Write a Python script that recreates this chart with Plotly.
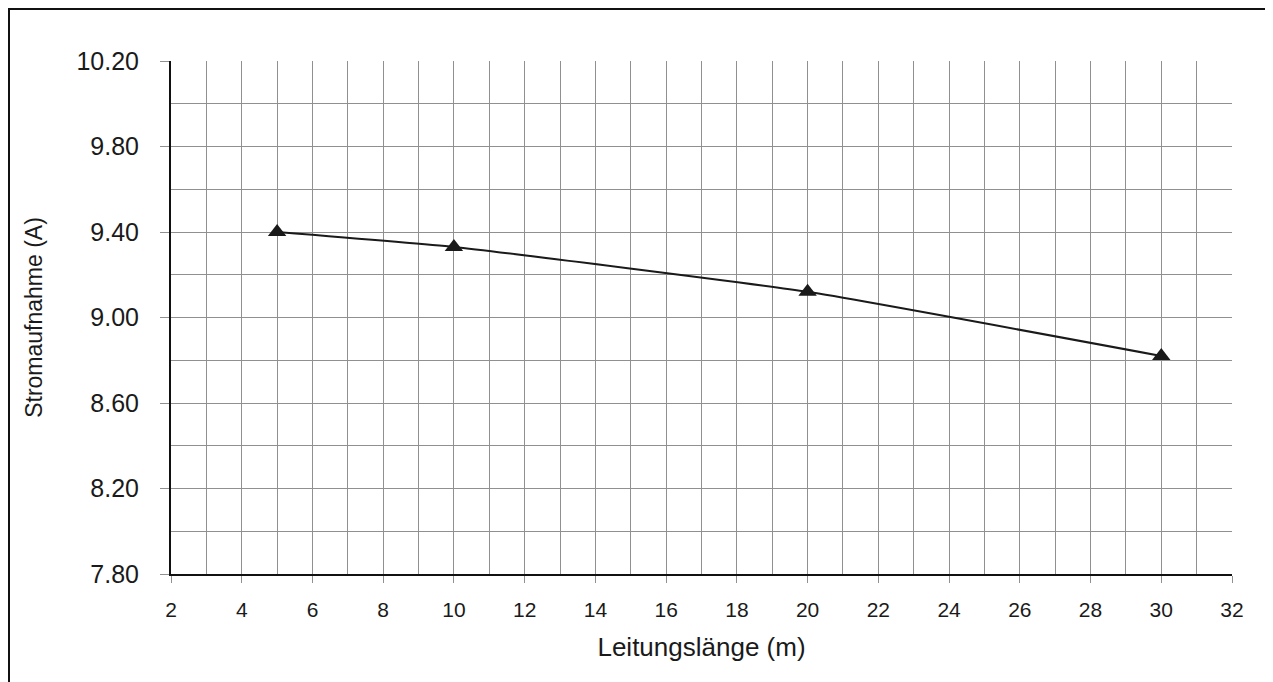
import plotly.graph_objects as go

laenge = [5, 10, 20, 30]
strom = [9.40, 9.33, 9.12, 8.82]

# page body has an 8px margin, so the figure is laid out 8px in from the window edge
W, H = 1257, 674
L, T = 163, 53
R, B = W - 1224, H - 566
pw, ph = W - L - R, H - T - B

fig = go.Figure()
fig.add_trace(go.Scatter(x=laenge, y=strom, mode='lines+markers',
                         line=dict(color='#1a1a1a', width=2, shape='spline', smoothing=0.4),
                         marker=dict(symbol='triangle-up', size=16, color='#1a1a1a'),
                         showlegend=False))

grid = '#909090'
fig.update_layout(
    width=W, height=H,
    margin=dict(l=L, r=R, t=T, b=B),
    paper_bgcolor='white', plot_bgcolor='white',
    font=dict(family='Liberation Sans, Arial, sans-serif', color='#1a1a1a'),
    xaxis=dict(range=[2, 32], dtick=2, tick0=2, showgrid=True, gridcolor=grid, gridwidth=1,
               minor=dict(dtick=1, showgrid=True, gridcolor=grid, gridwidth=1),
               showline=True, linecolor='#111', linewidth=2,
               ticks='outside', ticklen=7, tickcolor=grid, tickwidth=1,
               tickfont=dict(size=21), ticklabelstandoff=9, zeroline=False,
               title=dict(text='Leitungslänge (m)', font=dict(size=26), standoff=18)),
    yaxis=dict(range=[7.8, 10.2], dtick=0.4, tick0=7.8, tickformat='.2f',
               showgrid=True, gridcolor=grid, gridwidth=1,
               minor=dict(dtick=0.2, showgrid=True, gridcolor=grid, gridwidth=1),
               showline=True, linecolor='#111', linewidth=2,
               ticks='outside', ticklen=9, tickcolor=grid, tickwidth=1,
               tickfont=dict(size=25), ticklabelstandoff=16, zeroline=False,
               title=dict(text='Stromaufnahme (A)', font=dict(size=23), standoff=27)),
)

# outer frame (left and top edges visible, the rest runs off the page)
fig.add_shape(type='rect', xref='paper', yref='paper',
              x0=(1 - L) / pw, x1=(W + 20 - L) / pw,
              y0=-(B + 20) / ph, y1=(ph + T - 1) / ph,
              line=dict(color='#111', width=2), layer='below')

fig.write_html("out.html")
